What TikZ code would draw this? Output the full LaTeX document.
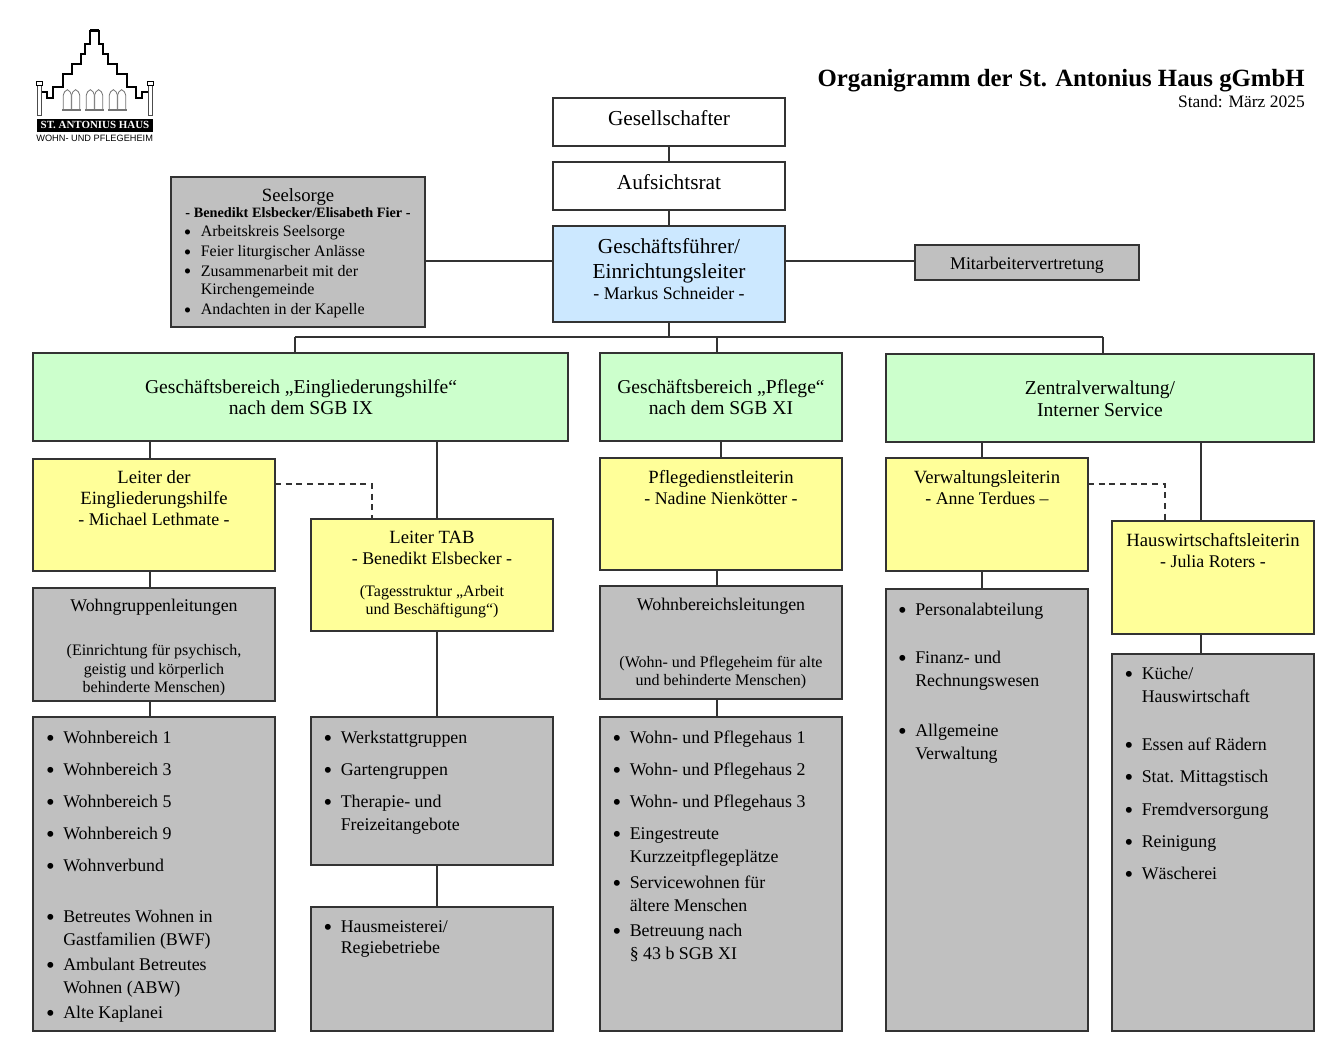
\documentclass[tikz,border=0pt]{standalone}
\usepackage{fontspec}
\setmainfont{Liberation Serif}
\newfontfamily\logosans{Liberation Sans}
\definecolor{linecol}{HTML}{333333}
\definecolor{boxgray}{HTML}{C0C0C0}
\definecolor{boxgreen}{HTML}{CCFFCC}
\definecolor{boxyellow}{HTML}{FFFF99}
\definecolor{boxblue}{HTML}{CCE8FF}
\newcommand{\bul}{\leavevmode\llap{\raisebox{-2.4pt}{\fontsize{18.5}{18}\selectfont\textbullet}\hspace{6.3pt}}}
\newcommand{\smallbul}{\leavevmode\llap{\raisebox{-2pt}{\fontsize{16}{14}\selectfont\textbullet}\hspace{7pt}}}
\newcommand{\nm}{\fontsize{13.4}{15.5}\selectfont}
\newcommand{\orgbox}[6]{\node[orgnode, fill=#2, minimum width={(#5-#3)*0.75pt}, minimum height={(#6-#4)*0.75pt}] (#1) at (#3,#4) {};}
\tikzset{
  orgnode/.style={draw=linecol, line width=0.8pt, rectangle, anchor=north west, inner sep=0pt, outer sep=0pt},
  conn/.style={draw=linecol, line width=0.8pt},
  head/.style={anchor=base, align=center, inner sep=0pt, font=\fontsize{16}{18}\selectfont},
  greenhead/.style={head, yshift=-0.6pt, font=\fontsize{14.7}{16}\selectfont},
  lead/.style={head, font=\fontsize{14}{15.5}\selectfont},
  midhead/.style={anchor=base, align=center, inner sep=0pt, yshift=-0.6pt, font=\fontsize{13.4}{15}\selectfont},
  small/.style={anchor=base, align=center, inner sep=0pt, yshift=-0.6pt, font=\fontsize{12}{14}\selectfont},
  item/.style={anchor=base west, align=left, inner sep=0pt, yshift=-0.3pt, font=\fontsize{13.4}{17.4}\selectfont},
  smallitem/.style={anchor=base west, align=left, inner sep=0pt, yshift=-0.6pt, font=\fontsize{12}{14}\selectfont}
}
\begin{document}
\begin{tikzpicture}[x=0.75pt, y=-0.75pt]
\useasboundingbox (0,0) rectangle (1332,1061);

% logo
\begin{scope}[shift={(20,15)}, scale=1/3]
\draw[black, line width=1.3pt] (65,230) -- (80,230) -- (80,248) -- (100,248) -- (100,215) -- (128,215) -- (128,178) -- (157,178) -- (157,147) -- (182,147) -- (182,118) -- (196,118) -- (196,88) -- (210,88) -- (210,47) -- (238,47) -- (238,88) -- (250,88) -- (250,118) -- (265,118) -- (265,147) -- (290,147) -- (290,178) -- (320,178) -- (320,215) -- (347,215) -- (347,248) -- (367,248) -- (367,230) -- (385,230);
\draw[black, line width=0.6pt] (212,43) rectangle (236,50);
\foreach \px in {52,385} {
  \draw[black!70, line width=0.7pt, fill=white] (\px,212) rectangle (\px+12,302);
  \draw[black, line width=0.7pt, fill=white] (\px-2,199) rectangle (\px+14,212);
}
\foreach \wx in {130,199,268} {
  \foreach \wo in {0,25} {
    \draw[black!55, line width=0.6pt] (\wx+\wo,283) -- (\wx+\wo,240) .. controls (\wx+\wo,232) and (\wx+\wo+6,228) .. (\wx+\wo+12,224) .. controls (\wx+\wo+18,228) and (\wx+\wo+24,232) .. (\wx+\wo+24,240) -- (\wx+\wo+24,283);
  }
  \draw[black!55, line width=1pt] (\wx-3,285) -- (\wx+52,285);
}
\node[fill=black, text=white, inner sep=0pt, minimum width=87.5pt, minimum height=10pt, font=\bfseries\fontsize{8.2}{9}\selectfont] (logoband) at (225,331) {ST. ANTONIUS HAUS};
\node[inner sep=0pt, font=\logosans\fontsize{6.9}{8}\selectfont] (logosub) at (224,369) {WOHN- UND PFLEGEHEIM};
\end{scope}

% title
\node[anchor=base east, inner sep=0pt, font=\bfseries\fontsize{18.6}{20}\selectfont] (title) at (1305,86) {Organigramm der St. Antonius Haus gGmbH};
\node[anchor=base east, inner sep=0pt, font=\fontsize{13.1}{15}\selectfont] (stand) at (1305,107) {Stand: März 2025};

% boxes
\orgbox{gesell}{white}{553}{98}{785}{146}
\orgbox{aufsicht}{white}{553}{162}{785}{210}
\orgbox{gf}{boxblue}{553}{226}{785}{322}
\orgbox{mav}{boxgray}{915}{245}{1139}{280}
\orgbox{seelsorge}{boxgray}{171}{177}{425}{327}
\orgbox{gbein}{boxgreen}{33}{353}{568}{441}
\orgbox{gbpfl}{boxgreen}{600}{353}{842}{441}
\orgbox{zv}{boxgreen}{886}{354}{1314}{442}
\orgbox{leiter}{boxyellow}{33}{459}{275}{571}
\orgbox{tab}{boxyellow}{311}{519}{553}{631}
\orgbox{pdl}{boxyellow}{600}{458}{842}{570}
\orgbox{vl}{boxyellow}{886}{458}{1088}{571}
\orgbox{hwl}{boxyellow}{1112}{521}{1314}{634}
\orgbox{wgl}{boxgray}{33}{588}{275}{701}
\orgbox{wbl}{boxgray}{600}{586}{842}{699}
\orgbox{wblist}{boxgray}{33}{717}{275}{1031}
\orgbox{werk}{boxgray}{311}{717}{553}{865}
\orgbox{haus}{boxgray}{311}{907}{553}{1031}
\orgbox{pflist}{boxgray}{600}{717}{842}{1031}
\orgbox{verw}{boxgray}{886}{589}{1088}{1031}
\orgbox{kueche}{boxgray}{1112}{654}{1314}{1031}

% connectors
\coordinate (bus) at (669,337);
\coordinate (xa) at (295,337);
\coordinate (xb) at (717,337);
\coordinate (xc) at (1103,337);
\coordinate (xd) at (150,0);
\coordinate (xe) at (437,0);
\coordinate (xf) at (982,0);
\coordinate (xg) at (1201,0);
\coordinate (ya) at (0,261);
\draw[conn] (gesell.south) -- (aufsicht.north);
\draw[conn] (aufsicht.south) -- (gf.north);
\draw[conn] (gf.south) -- (bus);
\draw[conn] (gf.west |- ya) -- (seelsorge.east |- ya);
\draw[conn] (gf.east |- ya) -- (mav.west |- ya);
\draw[conn] (xa) -- (xc);
\draw[conn] (xa) -- (xa |- gbein.north);
\draw[conn] (xb) -- (xb |- gbpfl.north);
\draw[conn] (xc) -- (xc |- zv.north);
\draw[conn] (gbein.south -| xd) -- (leiter.north -| xd);
\draw[conn] (leiter.south -| xd) -- (wgl.north -| xd);
\draw[conn] (wgl.south -| xd) -- (wblist.north -| xd);
\draw[conn] (gbein.south -| xe) -- (tab.north -| xe);
\draw[conn] (tab.south -| xe) -- (werk.north -| xe);
\draw[conn] (werk.south -| xe) -- (haus.north -| xe);
\draw[conn] (gbpfl.south -| gbpfl.north) -- (pdl.north);
\draw[conn] (pdl.south -| xb) -- (wbl.north -| xb);
\draw[conn] (wbl.south -| xb) -- (pflist.north -| xb);
\draw[conn] (zv.south -| xf) -- (vl.north -| xf);
\draw[conn] (vl.south -| xf) -- (verw.north -| xf);
\draw[conn] (zv.south -| xg) -- (hwl.north -| xg);
\draw[conn] (hwl.south -| xg) -- (kueche.north -| xg);
\coordinate (dasha) at (372,484);
\coordinate (dashb) at (1165,484);
\draw[conn, dash pattern=on 4.5pt off 3.5pt] (leiter.east |- dasha) -- (dasha) -- (tab.north -| dasha);
\draw[conn, dash pattern=on 4.5pt off 3.5pt] (vl.east |- dashb) -- (dashb) -- (hwl.north -| dashb);

% texts of the upper boxes
\node[head] (tgesell) at (669,125) {Gesellschafter};
\node[head] (taufsicht) at (669,189) {Aufsichtsrat};
\node[head] (tgf) at (669,278) {Geschäftsführer/\\[0.5pt]Einrichtungsleiter};
\node[midhead] (tgfname) at (669,299) {- Markus Schneider -};
\node[midhead] (tmav) at (1027,269) {Mitarbeitervertretung};
\node[midhead, font=\fontsize{14}{15}\selectfont] (tseel) at (298,201) {Seelsorge};
\node[anchor=base, inner sep=0pt, yshift=-0.6pt, font=\bfseries\fontsize{10.7}{13}\selectfont] (tseelname) at (298,217) {- Benedikt Elsbecker/Elisabeth Fier -};
\foreach \yy/\tx in {236/Arbeitskreis Seelsorge, 256/Feier liturgischer Anlässe, 294/{Zusammenarbeit mit der\\Kirchengemeinde}, 314/Andachten in der Kapelle}
  \node[smallitem] (seel\yy) at (200.5,\yy) {\smallbul\tx};

% texts of the green boxes
\node[greenhead] (tgbein) at (301,414) {Geschäftsbereich „Eingliederungshilfe“\\nach dem SGB IX};
\node[greenhead] (tgbpfl) at (721,414) {Geschäftsbereich „Pflege“\\nach dem SGB XI};
\node[greenhead, yshift=0.6pt] (tzv) at (1100,416) {Zentralverwaltung/\\Interner Service};

% texts of the yellow boxes
\node[lead] (tleiter) at (154,525) {Leiter der\\Eingliederungshilfe\\\nm - Michael Lethmate -};
\node[lead, yshift=-0.4pt] (ttab) at (432,564) {Leiter TAB\\\nm - Benedikt Elsbecker -};
\node[small] (ttabsub) at (432,614) {(Tagesstruktur „Arbeit\\und Beschäftigung“)};
\node[lead] (tpdl) at (721,504) {Pflegedienstleiterin\\\nm - Nadine Nienkötter -};
\node[lead] (tvl) at (987,504) {Verwaltungsleiterin\\\nm - Anne Terdues --};
\node[lead] (thwl) at (1213,567) {Hauswirtschaftsleiterin\\\nm - Julia Roters -};

% texts of the grey boxes
\node[midhead] (twgl) at (154,611) {Wohngruppenleitungen};
\node[small] (twglsub) at (154,692) {(Einrichtung für psychisch,\\geistig und körperlich\\behinderte Menschen)};
\node[midhead] (twbl) at (721,610) {Wohnbereichsleitungen};
\node[small] (twblsub) at (721,685) {(Wohn- und Pflegeheim für alte\\und behinderte Menschen)};

\foreach \yy/\tx in {743/Wohnbereich 1, 775/Wohnbereich 3, 807/Wohnbereich 5, 839/Wohnbereich 9, 871/Wohnverbund, 945/{Betreutes Wohnen in\\Gastfamilien (BWF)}, 993/{Ambulant Betreutes\\Wohnen (ABW)}, 1018/Alte Kaplanei}
  \node[item] (wb\yy) at (63,\yy) {\bul\tx};
\foreach \yy/\tx in {743/Werkstattgruppen, 775/Gartengruppen, 830/{Therapie- und\\Freizeitangebote}}
  \node[item] (wk\yy) at (340.5,\yy) {\bul\tx};
\node[item, font=\fontsize{13.4}{16}\selectfont] (hm) at (340.5,953) {\bul Hausmeisterei/\\Regiebetriebe};
\foreach \yy/\tx in {743/Wohn- und Pflegehaus 1, 775/Wohn- und Pflegehaus 2, 807/Wohn- und Pflegehaus 3, 862/{Eingestreute\\Kurzzeitpflegeplätze}, 911/{Servicewohnen für\\ältere Menschen}, 959/{Betreuung nach\\§ 43 b SGB XI}}
  \node[item] (pf\yy) at (629.5,\yy) {\bul\tx};
\foreach \yy/\tx in {615/Personalabteilung, 686/{Finanz- und\\Rechnungswesen}, 759/{Allgemeine\\Verwaltung}}
  \node[item] (vw\yy) at (915,\yy) {\bul\tx};
\foreach \yy/\tx in {702/{Küche/\\Hauswirtschaft}, 750/Essen auf Rädern, 782/Stat. Mittagstisch, 815/Fremdversorgung, 847/Reinigung, 879/Wäscherei}
  \node[item] (ku\yy) at (1141.5,\yy) {\bul\tx};
\end{tikzpicture}
\end{document}
